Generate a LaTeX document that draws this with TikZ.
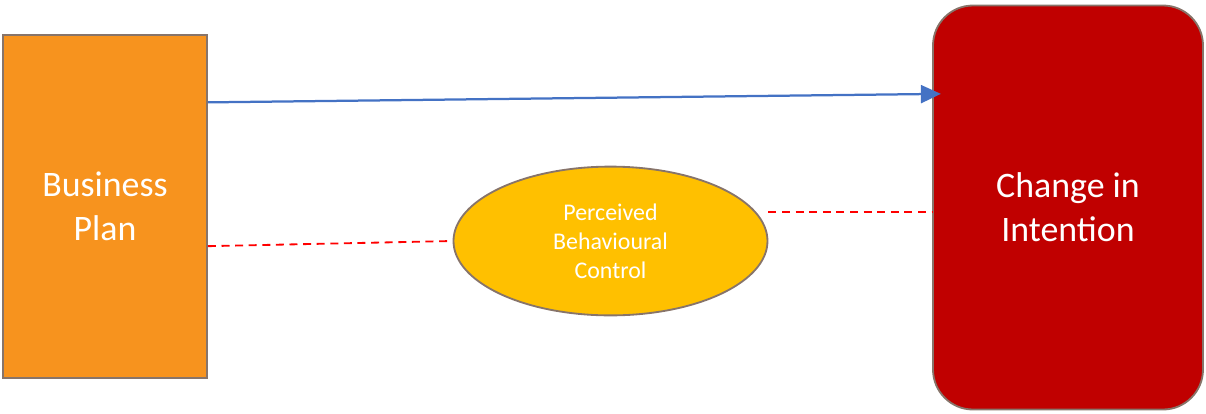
\documentclass[tikz,border=0pt]{standalone}
\usepackage{fontspec}
\setmainfont{Carlito}
\usepackage{tikz}
\usetikzlibrary{shapes.geometric, arrows.meta, calc}

\definecolor{planorange}{HTML}{F7931E}
\definecolor{intentred}{HTML}{C00000}
\definecolor{pbcyellow}{HTML}{FFC000}
\definecolor{edgegray}{HTML}{87746A}
\definecolor{linkblue}{HTML}{4472C4}

\begin{document}
\begin{tikzpicture}[
        box/.style={rectangle, draw=edgegray, line width=1.3pt, text=white, align=center, font=\fontsize{25.5}{31.5}\selectfont},
        pbc/.style={ellipse, draw=edgegray, line width=1.3pt, fill=pbcyellow, text=white, align=center, inner sep=0pt, minimum width=7.85cm, minimum height=3.72cm, font=\fontsize{17}{20.6}\selectfont},
        direct/.style={draw=linkblue, line width=1.6pt, -{Triangle[length=0.5cm, width=0.45cm]}},
        mediated/.style={draw=red, line width=1.3pt, dash pattern=on 0.2cm off 0.14cm}
    ]
        \useasboundingbox (0,0) rectangle (30.15,-10.325);

        % Boxes
        \node[box, fill=planorange, minimum width=5.1cm, minimum height=8.575cm] (plan) at (2.625,-5.1625) {Business\\Plan};
        \node[box, fill=intentred, rounded corners=1cm, minimum width=6.75cm, minimum height=10.1cm] (change) at (26.7,-5.1875) {Change in\\Intention};

        % Mediator
        \node[pbc] (ell) at (15.2625,-6.025) {Perceived\\Behavioural\\Control};

        % Connections
        \draw[direct] ($(plan.north east)!0.198!(plan.south east)$) -- ([xshift=0.22cm]$(change.north west)!0.22!(change.south west)$);
        \draw[mediated] ($(plan.north east)!0.615!(plan.south east)$) -- (ell.west);
        \draw[mediated] ([yshift=0.725cm]ell.east) -- ([yshift=0.725cm]ell.east -| change.west);
    \end{tikzpicture}
\end{document}
